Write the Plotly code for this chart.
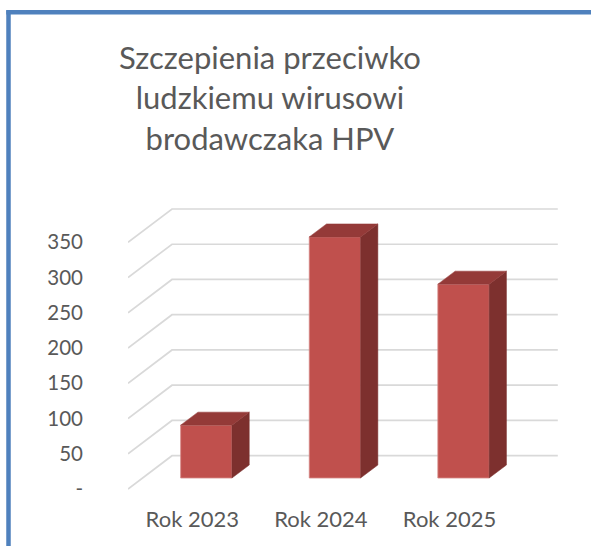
import plotly.graph_objects as go

# ---- data ----
categories = ["Rok 2023", "Rok 2024", "Rok 2025"]
values = [75, 342, 275]
tick_values = [0, 50, 100, 150, 200, 250, 300, 350]
tick_labels = ["-", "50", "100", "150", "200", "250", "300", "350"]

# ---- geometry / style ----
W, H = 591, 546
ML, MR, MT, MB = 128, 33, 200, 51
PLOT_W = W - ML - MR
PLOT_H = H - MT - MB
PX_X = 128.6           # px per category
PX_Y = 0.7049          # px per value unit
FRONT0_PX = 489        # pixel y of value 0 on front plane
# floor depth offset (data units)
DX_F = 44 / PX_X
DY_F = 33.3 / PX_Y
# bar front-face offset from front plane, and bar depth
BOX = 14 / PX_X
BOY = 11 / PX_Y
BDX = 17.3 / PX_X
BDY = 13.0 / PX_Y
BW = 51.3 / PX_X

FRONT = "#C0504D"
TOP = "#943A38"
SIDE = "#7D302E"
GRID = "#D9D9D9"
TEXT = "#595959"
BORDER = "#4F81BD"
FONT = "Lato"

ymin = -(MT + PLOT_H - FRONT0_PX) / PX_Y
ymax = ymin + PLOT_H / PX_Y
xmax = PLOT_W / PX_X

fig = go.Figure()

def px_to_paper_x(px):
    return (px - ML) / PLOT_W

def px_to_paper_y(py):
    return (MT + PLOT_H - py) / PLOT_H

shapes = []
# gridlines (diagonal on left wall + horizontal at back), behind the bars
for v in tick_values:
    shapes.append(dict(type="path", xref="x", yref="y", layer="below",
                       path=f"M 0,{v} L {DX_F},{v + DY_F} L {len(categories) + DX_F},{v + DY_F}",
                       line=dict(color=GRID, width=1.7)))

# bars: side and top faces
for i, v in enumerate(values):
    xc = i + 0.5 + BOX
    x0, x1 = xc - BW / 2, xc + BW / 2
    yb, yt = BOY, BOY + v
    fig.add_trace(go.Scatter(
        x=[x1, x1 + BDX, x1 + BDX, x1, x1],
        y=[yb, yb + BDY, yt + BDY, yt, yb],
        fill="toself", fillcolor=SIDE, mode="lines",
        line=dict(color=SIDE, width=0.5), hoverinfo="skip", showlegend=False))
    fig.add_trace(go.Scatter(
        x=[x0, x0 + BDX, x1 + BDX, x1, x0],
        y=[yt, yt + BDY, yt + BDY, yt, yt],
        fill="toself", fillcolor=TOP, mode="lines",
        line=dict(color=TOP, width=0.5), hoverinfo="skip", showlegend=False))

# bars: front faces
fig.add_trace(go.Bar(
    x=[i + 0.5 + BOX for i in range(len(values))],
    y=values, base=[BOY] * len(values), width=BW,
    marker=dict(color=FRONT, line=dict(color="#D58A88", width=0.8)),
    showlegend=False, hoverinfo="skip"))

# chart-area border (left and top visible)
shapes += [
    dict(type="line", xref="paper", yref="paper",
         x0=px_to_paper_x(8.5), x1=px_to_paper_x(8.5),
         y0=px_to_paper_y(10.2), y1=px_to_paper_y(H + 5),
         line=dict(color=BORDER, width=4.5)),
    dict(type="line", xref="paper", yref="paper",
         x0=px_to_paper_x(6.3), x1=px_to_paper_x(W + 5),
         y0=px_to_paper_y(12.3), y1=px_to_paper_y(12.3),
         line=dict(color=BORDER, width=4.5)),
]

fig.add_annotation(
    text="Szczepienia przeciwko<br>ludzkiemu wirusowi<br>brodawczaka HPV",
    xref="paper", yref="paper",
    x=px_to_paper_x(269.5), y=px_to_paper_y(98),
    xanchor="center", yanchor="middle", showarrow=False,
    font=dict(family=FONT, size=31, color=TEXT))

fig.update_layout(
    width=W, height=H,
    margin=dict(l=ML, r=MR, t=MT, b=MB, pad=0),
    paper_bgcolor="white", plot_bgcolor="white",
    shapes=shapes,
    xaxis=dict(range=[0, xmax], tickvals=[0.5, 1.5, 2.5], ticktext=categories,
               showgrid=False, zeroline=False, showline=False, ticks="",
               tickfont=dict(family=FONT, size=22, color=TEXT),
               ticklabelstandoff=9, fixedrange=True),
    yaxis=dict(range=[ymin, ymax], tickvals=tick_values, ticktext=tick_labels,
               showgrid=False, zeroline=False, showline=False, ticks="",
               tickfont=dict(family=FONT, size=20.5, color=TEXT),
               ticklabelstandoff=44, fixedrange=True),
    bargap=0,
)

fig.write_html("out.html",
               config={"displayModeBar": False, "staticPlot": True},
               post_script="document.body.style.margin='0';document.body.style.overflow='hidden';")
